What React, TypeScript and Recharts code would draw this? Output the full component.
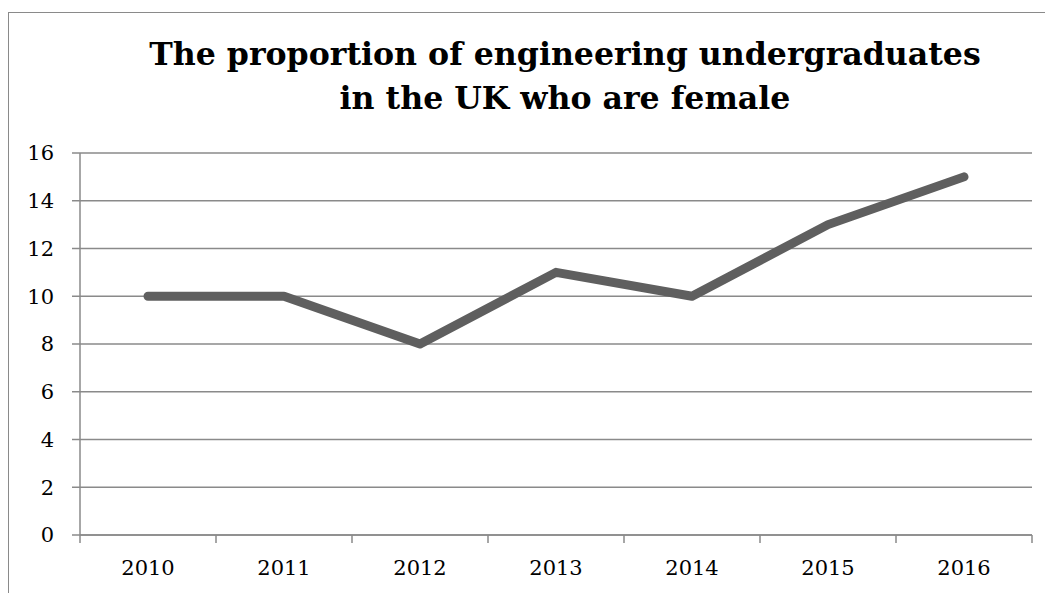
import { CartesianGrid, Line, LineChart, XAxis, YAxis } from 'recharts'

const YEARS = ['2010', '2011', '2012', '2013', '2014', '2015', '2016']
const FEMALE_PCT = [10, 10, 8, 11, 10, 13, 15]
const Y_TICKS = [0, 2, 4, 6, 8, 10, 12, 14, 16]

const GRID = '#8a8a8a'
const LINE = '#5f5f5f'
const FONT = '"DejaVu Serif", "Liberation Serif", serif'

const chartData = YEARS.map((year, i) => ({ x: i + 0.5, year, value: FEMALE_PCT[i] }))

// boundaries get a tick mark, half-steps get the year label
const xTicks: number[] = []
for (let i = 0; i <= YEARS.length * 2; i++) xTicks.push(i / 2)

function XTick(props: any) {
  const { x, y, payload } = props
  const v = payload.value as number
  if (Number.isInteger(v)) {
    return <line x1={x} y1={y} x2={x} y2={y + 8} stroke={GRID} strokeWidth={1.5} />
  }
  const label = YEARS[Math.floor(v)]
  return (
    <text x={x} y={y + 40} textAnchor="middle" fontFamily={FONT} fontSize={21} fill="#000">
      {label}
    </text>
  )
}

export default function App() {
  return (
    <div style={{ position: 'relative', width: 1045, height: 585, overflow: 'hidden', background: '#fff' }}>
      <div
        style={{
          position: 'absolute', left: 0, top: 4, width: 1200, height: 700,
          border: `1.5px solid ${GRID}`, boxSizing: 'border-box',
        }}
      />
      <div
        style={{
          position: 'absolute', left: 0, top: 24, width: 1114, textAlign: 'center',
          fontFamily: FONT, fontWeight: 'bold', fontSize: 31.6, lineHeight: '44px', color: '#000',
        }}
      >
        The proportion of engineering undergraduates
        <br />
        in the UK who are female
      </div>
      <LineChart
        width={1045}
        height={585}
        data={chartData}
        margin={{ top: 145, right: 21, left: 0, bottom: 0 }}
        style={{ position: 'absolute', left: 0, top: 0 }}
      >
        <CartesianGrid vertical={false} stroke={GRID} strokeWidth={1.5} />
        <XAxis
          dataKey="x"
          type="number"
          domain={[0, YEARS.length]}
          ticks={xTicks}
          interval={0}
          height={58}
          axisLine={{ stroke: GRID, strokeWidth: 1.5 }}
          tickLine={false}
          tickSize={0}
          tickMargin={0}
          tick={<XTick />}
        />
        <YAxis
          domain={[0, 16]}
          ticks={Y_TICKS}
          interval={0}
          width={72}
          axisLine={{ stroke: GRID, strokeWidth: 1.5 }}
          tickLine={{ stroke: GRID, strokeWidth: 1.5 }}
          tickSize={8}
          tickMargin={18}
          tick={{ fontFamily: FONT, fontSize: 21, fill: '#000' }}
        />
        <Line
          dataKey="value"
          stroke={LINE}
          strokeWidth={9}
          strokeLinecap="round"
          strokeLinejoin="round"
          dot={false}
          activeDot={false}
          isAnimationActive={false}
        />
      </LineChart>
    </div>
  )
}
